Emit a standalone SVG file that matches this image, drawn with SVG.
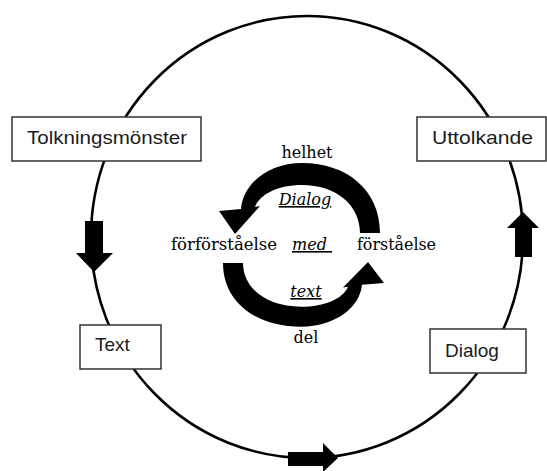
<svg xmlns="http://www.w3.org/2000/svg" width="547" height="471" viewBox="0 0 547 471">
<style>
.box{fill:#fff;stroke:#333;stroke-width:1.5}
.lbl{font-family:"Liberation Sans",Arial,sans-serif;font-size:19px;fill:#1b1b24}
.ser{font-family:"DejaVu Serif","Liberation Serif",serif;font-size:16px;fill:#000}
.it{font-style:italic;text-decoration:underline}
.ring{fill:none;stroke:#000;stroke-width:2.6}
.blk{fill:#000}
</style>
<defs>
<path id="curved" d="M380 233 C380 190 347 163 302 163 C268 163 243 184 241 209 L219 211 L235 234 L260 206 L255 207 C260 194 278 185 302 185 C336 185 360 205 360 233 Z"/>
</defs>
<g id="connectors">
<ellipse class="ring" cx="307" cy="237" rx="216" ry="221"/>
<polygon class="blk" points="85,221 103,221 103,253 113,253 94,272 76,253 85,253"/>
<polygon class="blk" points="515,257 532,257 532,228 539,228 523,212 507,228 515,228"/>
<polygon class="blk" points="288,452 323,452 323,443 338,458 323,472 323,466 288,466"/>
</g>
<g id="cycle">
<use href="#curved"/>
<use href="#curved" transform="translate(0 263) scale(1 0.91) translate(0 -263) rotate(180 301.5 248)"/>
</g>
<g id="node-tolkningsmonster">
<rect class="box" x="12" y="117" width="189" height="44"/>
<text class="lbl" x="27" y="144" textLength="160" lengthAdjust="spacingAndGlyphs">Tolkningsmönster</text>
</g>
<g id="node-uttolkande">
<rect class="box" x="417" y="117" width="129" height="44"/>
<text class="lbl" x="432" y="144" textLength="101" lengthAdjust="spacingAndGlyphs">Uttolkande</text>
</g>
<g id="node-text">
<rect class="box" x="80" y="325" width="81" height="44"/>
<text class="lbl" x="95" y="351">Text</text>
</g>
<g id="node-dialog">
<rect class="box" x="430" y="329" width="96" height="44"/>
<text class="lbl" x="445" y="357">Dialog</text>
</g>
<g id="center-labels">
<text class="ser" x="307" y="158" text-anchor="middle">helhet</text>
<text class="ser it" x="305" y="205" text-anchor="middle">Dialog</text>
<text class="ser" x="171" y="250" textLength="106" lengthAdjust="spacingAndGlyphs">förförståelse</text>
<text class="ser it" x="292" y="250" xml:space="preserve">med </text>
<text class="ser" x="357" y="250" textLength="79" lengthAdjust="spacingAndGlyphs">förståelse</text>
<text class="ser it" x="306" y="297" text-anchor="middle">text</text>
<text class="ser" x="306" y="343" text-anchor="middle">del</text>
</g>
</svg>
